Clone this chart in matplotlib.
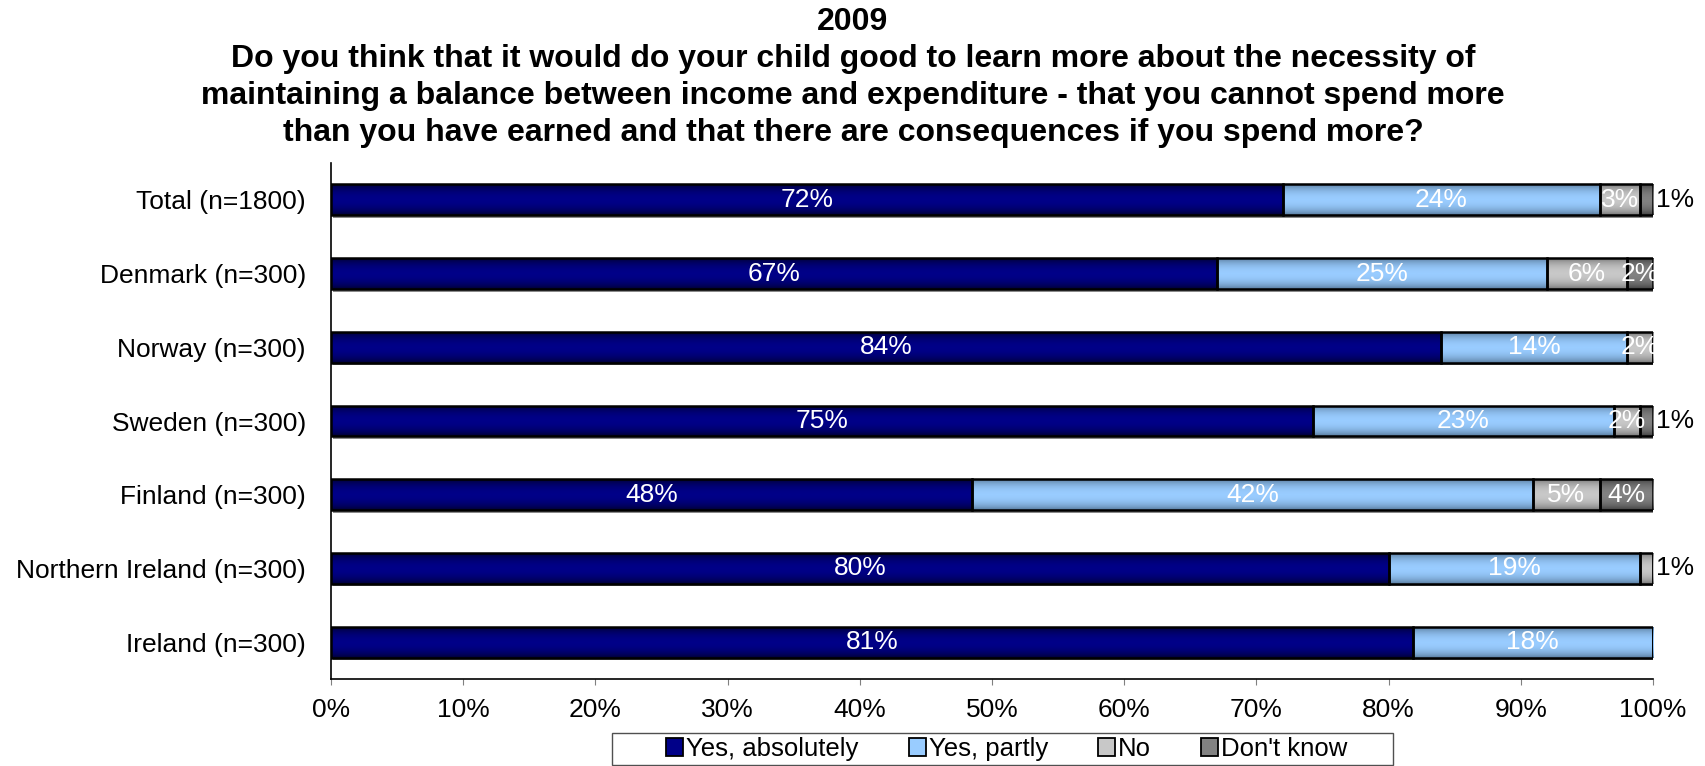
import numpy as np
import matplotlib.pyplot as plt
from matplotlib.colors import LinearSegmentedColormap

plt.rcParams['font.family'] = ['Liberation Sans', 'DejaVu Sans']

########################## data #####################################
title = ("2009\nDo you think that it would do your child good to learn more about the necessity of\n"
         "maintaining a balance between income and expenditure - that you cannot spend more\n"
         "than you have earned and that there are consequences if you spend more?")
groups = ["Total (n=1800)", "Denmark (n=300)", "Norway (n=300)", "Sweden (n=300)",
          "Finland (n=300)", "Northern Ireland (n=300)", "Ireland (n=300)"]
answers = ["Yes, absolutely", "Yes, partly", "No", "Don't know"]
yes_absolutely = [72, 67, 84, 75, 48, 80, 81]
yes_partly = [24, 25, 14, 23, 42, 19, 18]
no = [3, 6, 2, 2, 5, 1, 0]
dont_know = [1, 2, 0, 1, 4, 0, 0]

# (centre colour, edge colour) for the shaded fills
fills = [("#000088", "#000028"), ("#99ccff", "#50708f"),
         ("#c8c8c8", "#6c6c6c"), ("#828282", "#383838")]

########################## plotting #####################################
vals = np.array([yes_absolutely, yes_partly, no, dont_know], dtype=float)
shares = vals / vals.sum(axis=0) * 100   # 100% stacked
lefts = np.vstack([np.zeros(len(groups)), np.cumsum(shares, axis=0)[:-1]])
ypos = np.arange(len(groups))
h = 0.42
fs = 19
W, H = 1706, 766

fig = plt.figure(figsize=(W / 100, H / 100), dpi=100)
ax = fig.add_axes([331/W, 1 - 679/H, (1653-331)/W, (679-163)/H])

u = np.linspace(0, 1, 64)
prof = np.sin(np.pi * u) ** 0.6

# shadow under the bars
ax.barh(ypos + 0.035, 100.15 * (shares.sum(axis=0) > 0), left=0.15, height=h,
        color="#8a8a8a", zorder=1)

for k, name in enumerate(answers):
    c0, c1 = fills[k]
    cmap = LinearSegmentedColormap.from_list(name, [c1, c0])
    bars = ax.barh(ypos, shares[k], left=lefts[k], height=h, color=c0,
                   zorder=2, label=name)
    for b in bars:
        if b.get_width() <= 0:
            continue
        x0, y0 = b.get_x(), b.get_y()
        im = ax.imshow(prof[:, None], cmap=cmap, aspect='auto', vmin=0, vmax=1,
                       extent=[x0, x0 + b.get_width(), y0 + h, y0],
                       interpolation='bilinear', zorder=3)
        im.set_clip_path(b)
    ax.barh(ypos, shares[k], left=lefts[k], height=h, fill=False,
            edgecolor="black", linewidth=1.8, zorder=4)

    for i in range(len(groups)):
        v = vals[k, i]
        if v <= 0:
            continue
        if v <= 1:
            ax.text(100.2, ypos[i], f"{v:.0f}%", ha='left', va='center',
                    fontsize=fs, color='black', zorder=5, clip_on=False)
        else:
            ax.text(lefts[k, i] + shares[k, i] / 2, ypos[i], f"{v:.0f}%",
                    ha='center', va='center', fontsize=fs, color='white', zorder=5)

ax.set_xlim(0, 100)
ax.set_ylim(len(groups) - 0.5, -0.5)
ax.set_xticks(np.arange(0, 101, 10))
ax.set_xticklabels([f"{t}%" for t in range(0, 101, 10)], fontsize=fs)
ax.set_yticks(ypos)
ax.set_yticklabels(groups, fontsize=fs)
ax.tick_params(axis='y', length=0, pad=18)
ax.tick_params(axis='x', length=4, color='#808080', pad=10)
for s in ['top', 'right']:
    ax.spines[s].set_visible(False)
ax.spines['left'].set_linewidth(1.2)
ax.spines['bottom'].set_linewidth(1.2)

fig.text(0.5, 1 - 77.5/H, title, ha='center', va='center', fontsize=23,
         fontweight='bold', linespacing=1.31)

# legend entries, with a separate frame round them
handles = [plt.Rectangle((0, 0), 1, 1, facecolor=fills[k][0], edgecolor='black',
                         linewidth=1.3) for k in range(len(answers))]
leg = fig.legend(handles, answers, loc='center', ncol=4, fontsize=18.5,
                 bbox_to_anchor=(1007/W, 1 - 749/H), frameon=False,
                 handlelength=0.66, handleheight=0.66,
                 handletextpad=0.12, columnspacing=1.95, borderpad=0,
                 borderaxespad=0)
fig.patches.append(plt.Rectangle((612/W, 1 - 765/H), (1393-612)/W, (765-733)/H,
                                 transform=fig.transFigure, fill=False,
                                 edgecolor='#505050', linewidth=1.0))

fig.savefig("out.png", dpi=100)
